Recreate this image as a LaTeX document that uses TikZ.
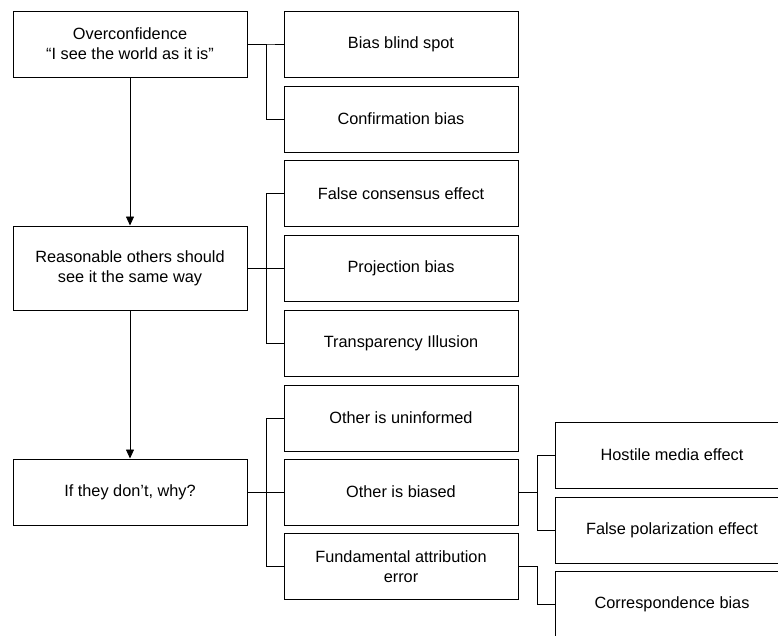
\documentclass[tikz,border=0pt]{standalone}
\usepackage{fontspec}
\setmainfont{Liberation Sans}
\usetikzlibrary{arrows.meta,positioning}

\tikzset{
  box/.style={draw, line width=1pt, minimum width=234pt, minimum height=66pt,
    inner sep=2pt, align=center, font=\fontsize{16.3}{20}\selectfont},
  link/.style={line width=0.8pt},
  arrow/.style={line width=0.8pt, -{Triangle[length=9pt,width=8pt]}}
}

\begin{document}
\begin{tikzpicture}[x=1pt,y=-1pt]
    \clip (0,0) rectangle (778,635);
    \useasboundingbox (0,0) rectangle (778,635);

    % main chain
    \node[box] (over) at (130,44) {Overconfidence\\``I see the world as it is''};
    \node[box, minimum height=84pt] (reas) at (130,268) {Reasonable others should\\see it the same way};
    \node[box] (why) at (130,492) {If they don't, why?};

    % second column
    \node[box] (blind) at (401,44) {Bias blind spot};
    \node[box] (conf) at (401,119) {Confirmation bias};
    \node[box] (cons) at (401,193.5) {False consensus effect};
    \node[box] (proj) at (401,268.5) {Projection bias};
    \node[box] (trans) at (401,343) {Transparency Illusion};
    \node[box] (unin) at (401,418) {Other is uninformed};
    \node[box] (biased) at (401,492) {Other is biased};
    \node[box] (fund) at (401,566.5) {Fundamental attribution\\error};

    % third column
    \node[box] (host) at (672,455) {Hostile media effect};
    \node[box] (polar) at (672,530) {False polarization effect};
    \node[box] (corr) at (672,604) {Correspondence bias};

    % arrows down
    \draw[arrow] (over) -- (reas);
    \draw[arrow] (reas) -- (why);

    % brackets
    \foreach \a/\b in {over/blind, over/conf, reas/cons, reas/proj, reas/trans,
                       why/unin, why/biased, why/fund, biased/host, biased/polar, fund/corr}
      \draw[link] (\a.east) -- ++(19,0) |- (\b.west);
\end{tikzpicture}
\end{document}
